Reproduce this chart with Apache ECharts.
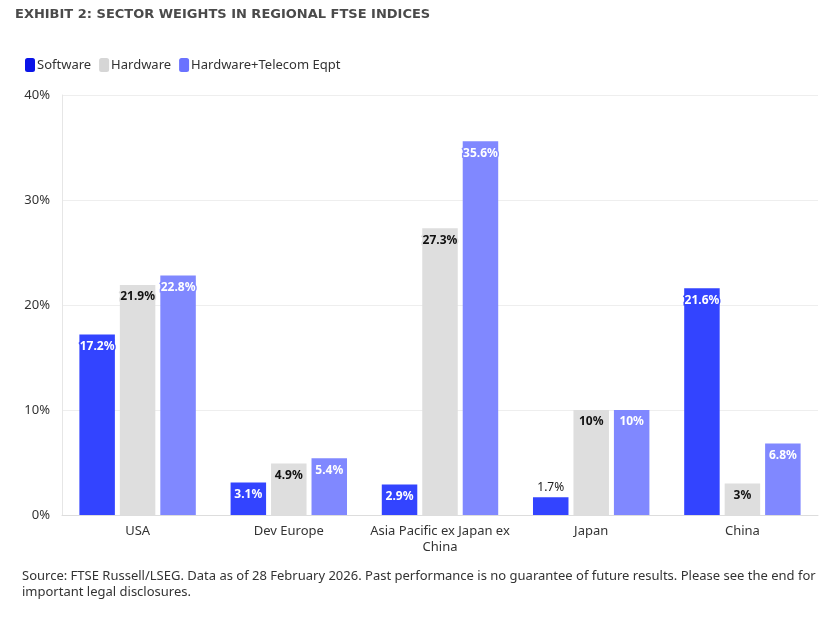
<!DOCTYPE html>
<html>
<head>
<meta charset="utf-8">
<script src="https://cdn.jsdelivr.net/npm/echarts@6/dist/echarts.min.js"></script>
<style>
html,body{margin:0;padding:0;background:#fff;}
#c{width:828px;height:620px;}
</style>
</head>
<body>
<div id="c"></div>
<script>
const categories = ['USA', 'Dev Europe', 'Asia Pacific ex Japan ex\nChina', 'Japan', 'China'];
const software = [17.2, 3.1, 2.9, 1.7, 21.6];
const hardware = [21.9, 4.9, 27.3, 10, 3];
const hwTelecom = [22.8, 5.4, 35.6, 10, 6.8];
const yTicks = [0, 10, 20, 30, 40];

const barColors = ['#3344ff', '#dedede', '#8088ff'];
const legendColors = ['#0a14e8', '#d6d6d6', '#6a72ff'];

function fmt(v){ return v + '%'; }

function lbl(textColor, border){
  return {
    show: true, position: 'insideTop', distance: 6,
    fontFamily: 'Noto Sans', fontWeight: 'bold', fontSize: 12,
    color: textColor, textBorderColor: border, textBorderWidth: 3,
    formatter: p => fmt(p.value)
  };
}

const softwareData = software.map(v => v < 2 ? {
  value: v,
  label: {position: 'top', distance: 4, color: '#222', textBorderWidth: 0, fontWeight: 'normal'}
} : v);

const chart = echarts.init(document.getElementById('c'), null, {renderer: 'canvas'});
chart.setOption({
  animation: false,
  backgroundColor: '#fff',
  title: {
    text: 'EXHIBIT 2: SECTOR WEIGHTS IN REGIONAL FTSE INDICES',
    left: 10, top: 3,
    textStyle: {fontFamily: 'DejaVu Sans', fontWeight: 'bold', fontSize: 13, color: '#4a4a4a'}
  },
  legend: {
    left: 20, top: 53, itemWidth: 10, itemHeight: 14, itemGap: 8,
    icon: 'roundRect',
    textStyle: {fontFamily: 'Noto Sans', fontSize: 13, color: '#333', padding: [0,0,0,-3]},
    data: [
      {name: 'Software', itemStyle: {color: legendColors[0]}},
      {name: 'Hardware', itemStyle: {color: legendColors[1]}},
      {name: 'Hardware+Telecom Eqpt', itemStyle: {color: legendColors[2]}}
    ]
  },
  grid: {left: 62, right: 10, top: 95, bottom: 105, containLabel: false},
  xAxis: {
    type: 'category', data: categories,
    axisLine: {lineStyle: {color: '#ddd'}},
    axisTick: {alignWithLabel: true, length: 4, lineStyle: {color: '#ddd'}},
    axisLabel: {interval: 0, fontFamily: 'Noto Sans', fontSize: 13, color: '#333', margin: 8, lineHeight: 16}
  },
  yAxis: {
    type: 'value', min: yTicks[0], max: yTicks[yTicks.length-1], interval: 10,
    axisLine: {show: true, lineStyle: {color: '#e6e6e6'}},
    axisTick: {show: false},
    splitLine: {lineStyle: {color: '#eeeeee'}},
    axisLabel: {fontFamily: 'Noto Sans', fontSize: 13, color: '#333', margin: 12, formatter: v => v + '%'}
  },
  series: [
    {name: 'Software', type: 'bar', data: softwareData, barGap: '14%', barCategoryGap: '23%',
     itemStyle: {color: barColors[0]}, label: lbl('#fff', barColors[0])},
    {name: 'Hardware', type: 'bar', data: hardware,
     itemStyle: {color: barColors[1]}, label: lbl('#111', barColors[1])},
    {name: 'Hardware+Telecom Eqpt', type: 'bar', data: hwTelecom,
     itemStyle: {color: barColors[2]}, label: lbl('#fff', barColors[2])}
  ],
  graphic: [
    {type: 'text', left: 22, top: 568, style: {
      text: 'Source: FTSE Russell/LSEG. Data as of 28 February 2026. Past performance is no guarantee of future results. Please see the end for\nimportant legal disclosures.',
      fontFamily: 'Noto Sans', fontSize: 13, fill: '#333', lineHeight: 16}}
  ]
});
</script>
</body>
</html>
